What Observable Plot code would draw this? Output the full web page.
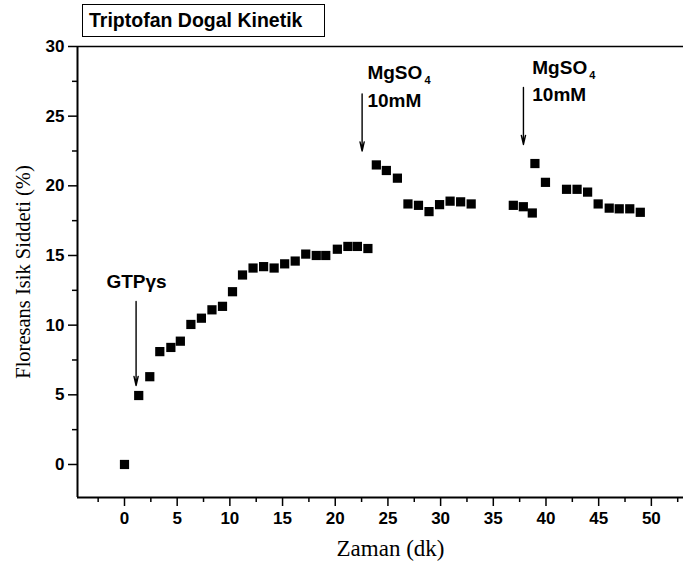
<!DOCTYPE html>
<html>
<head>
<meta charset="utf-8">
<script src="https://cdn.jsdelivr.net/npm/d3@7"></script>
<script src="https://cdn.jsdelivr.net/npm/@observablehq/plot@0.6"></script>
<style>
  html, body { margin: 0; padding: 0; background: #fff; }
  #wrap { position: relative; width: 683px; height: 568px; }
  #title {
    position: absolute; left: 82px; top: 4px; width: 235px; height: 31px;
    border: 1.5px solid #000; box-sizing: content-box;
    font-family: "Liberation Sans", Arial, sans-serif; font-weight: bold;
    font-size: 19.5px; line-height: 31px; padding-left: 6px; color: #000;
  }
</style>
</head>
<body>
<div id="wrap"><div id="title">Triptofan Dogal Kinetik</div></div>
<script>
// Time (dk) and fluorescence intensity (%)
const times = [0, 1.35, 2.4, 3.35, 4.4, 5.3, 6.3, 7.3, 8.3, 9.3, 10.25, 11.2, 12.2, 13.2, 14.2, 15.2, 16.2, 17.2, 18.2, 19.1, 20.2, 21.2, 22.1, 23.1,
  23.9, 24.85, 25.9, 26.9, 27.9, 28.9, 29.9, 30.9, 31.9, 32.9,
  36.9, 37.85, 38.7, 38.95, 39.95, 41.95, 42.95, 43.95, 44.95, 46.0, 46.95, 47.95, 48.95];
const values = [0, 4.95, 6.3, 8.1, 8.4, 8.85, 10.05, 10.5, 11.1, 11.35, 12.4, 13.6, 14.1, 14.2, 14.1, 14.4, 14.6, 15.1, 15.0, 15.0, 15.45, 15.65, 15.65, 15.5,
  21.5, 21.1, 20.55, 18.7, 18.6, 18.15, 18.65, 18.9, 18.85, 18.7,
  18.6, 18.5, 18.05, 21.6, 20.25, 19.75, 19.75, 19.55, 18.7, 18.4, 18.35, 18.35, 18.1];

const xDomain = [-4.46, 53.05];
const yDomain = [-2.37, 30];
const xMajor = [0, 5, 10, 15, 20, 25, 30, 35, 40, 45, 50];
const xMinor = [-2.5, 2.5, 7.5, 12.5, 17.5, 22.5, 27.5, 32.5, 37.5, 42.5, 47.5, 52.5];
const yMajor = [0, 5, 10, 15, 20, 25, 30];
const yMinor = [2.5, 7.5, 12.5, 17.5, 22.5, 27.5];

// annotations: arrows (time, from value, to value) and labels
const arrowT = [1.1, 22.55, 37.86];
const arrowFrom = [11.7, 26.6, 27.06];
const arrowTo = [5.67, 22.5, 22.97];
const gtpLabel = "GTPγs";
const gtpT = 1.14, gtpV = 13.07;
const mgLabel = "MgSO";
const mgSub = "4";
const concLabel = "10mM";
const mgT = [23.05, 38.7];
const mgV = [28.1, 28.45];
const concV = [26.13, 26.49];

const pts = times.map((t, i) => ({t, v: values[i]}));
const arrows = arrowT.map((t, i) => ({t, a: arrowFrom[i], b: arrowTo[i]}));
const mg = mgT.map((t, i) => ({t, v: mgV[i], c: concV[i]}));

const sans = "'Liberation Sans', Arial, sans-serif";
const serif = "'Liberation Serif', 'Times New Roman', serif";
const annSize = 19;

const chart = Plot.plot({
  width: 683,
  height: 568,
  marginLeft: 77,
  marginRight: 0,
  marginTop: 46,
  marginBottom: 71,
  style: {fontFamily: sans, fontSize: "17px", color: "#000", background: "transparent"},
  x: {domain: xDomain},
  y: {domain: yDomain},
  marks: [
    Plot.axisY({ticks: yMajor, tickSize: 9, tickPadding: 4, tickFormat: d => d, fontWeight: "bold", fontSize: 17, strokeWidth: 1.5, label: null}),
    Plot.axisY({ticks: yMinor, tickSize: 5, tickFormat: () => "", strokeWidth: 1.5, label: null}),
    Plot.axisX({ticks: xMajor, tickSize: 9, tickPadding: 5, tickFormat: d => d, fontWeight: "bold", fontSize: 17, strokeWidth: 1.5, label: null}),
    Plot.axisX({ticks: xMinor, tickSize: 5, tickFormat: () => "", strokeWidth: 1.5, label: null}),
    Plot.ruleX([xDomain[0]], {stroke: "#000", strokeWidth: 2}),
    Plot.ruleY([yDomain[0]], {stroke: "#000", strokeWidth: 2}),
    Plot.ruleY([yDomain[1]], {stroke: "#000", strokeWidth: 1.5}),
    Plot.dot(pts, {x: "t", y: "v", symbol: "square", r: 5.2, fill: "#000", stroke: "none"}),
    Plot.arrow(arrows, {x1: "t", x2: "t", y1: "a", y2: "b", stroke: "#000", strokeWidth: 1.4, headLength: 10, headAngle: 26}),
    Plot.text([gtpLabel], {x: () => gtpT, y: () => gtpV, textAnchor: "middle", fontSize: annSize, fontWeight: "bold", fill: "#000"}),
    Plot.text(mg, {x: "t", y: "v", text: () => mgLabel, textAnchor: "start", fontSize: annSize, fontWeight: "bold", fill: "#000"}),
    Plot.text(mg, {x: "t", y: "v", text: () => mgSub, textAnchor: "start", dx: 57, dy: 7, fontSize: 11, fontWeight: "bold", fill: "#000"}),
    Plot.text(mg, {x: "t", y: "c", text: () => concLabel, textAnchor: "start", fontSize: annSize, fontWeight: "bold", fill: "#000"}),
    Plot.text(["Floresans Isik Siddeti (%)"], {frameAnchor: "left", textAnchor: "middle", lineAnchor: "middle", dx: -54, rotate: -90, fontSize: 20.5, fontFamily: serif, fill: "#000"}),
    Plot.text(["Zaman (dk)"], {frameAnchor: "bottom", textAnchor: "middle", lineAnchor: "middle", dx: 10, dy: 51, fontSize: 23, fontFamily: serif, fill: "#000"})
  ]
});
document.getElementById("wrap").appendChild(chart);
</script>
</body>
</html>
